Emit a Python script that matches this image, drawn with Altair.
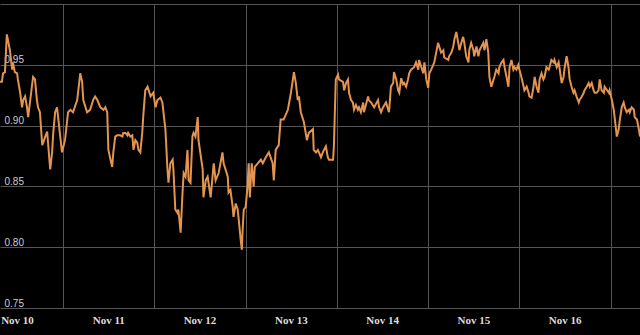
import altair as alt
import pandas as pd
from datetime import datetime, timedelta, timezone

# hours since 2023-11-10 00:00 UTC
hours = [7.4, 7.9, 8.2, 8.7, 9.2, 10.0, 10.6, 10.8, 11.3, 11.9, 12.1, 12.7, 13.2, 13.5, 14.0, 14.5, 14.8,
         16.1, 16.6, 17.1, 17.4, 17.9, 18.5, 19.3, 19.8, 20.6, 21.1, 21.4, 21.9, 22.4, 23.0, 23.7,
         24.5, 25.3, 25.9, 26.6, 27.7, 28.5, 29.0, 29.3, 30.3, 31.1, 31.9, 32.4, 33.0, 33.8, 34.6,
         35.1, 35.6, 35.9, 36.9, 37.2, 37.7, 38.2, 39.0, 39.6, 39.8, 40.4, 40.9, 41.1, 41.7, 42.2,
         42.5, 43.0, 43.5, 43.8, 44.3, 44.8, 45.1, 45.6, 46.2, 47.0, 47.7, 48.3, 48.8, 49.6, 50.1,
         50.6, 50.9, 51.4, 51.7, 52.2, 52.8, 53.0, 53.5, 54.1, 54.3, 54.9, 55.4, 55.7, 56.2, 56.7,
         57.0, 57.5, 58.0, 58.3, 58.8, 59.4, 59.6, 60.7, 60.9, 61.5, 62.0, 62.8, 63.6, 64.1, 64.9,
         65.9, 66.2, 67.3, 67.5, 68.0, 68.6, 68.8, 69.4, 69.9, 70.2, 70.7, 71.0, 71.2, 71.5, 72.0,
         72.5, 72.8, 73.1, 73.6, 74.1, 74.4, 75.2, 76.0, 76.5, 77.3, 78.1, 79.1, 79.4, 79.9, 80.7,
         81.2, 82.0, 83.1, 83.9, 84.7, 85.2, 85.7, 86.0, 86.5, 87.3, 88.1, 88.6, 89.7, 89.9, 90.5,
         91.0, 91.8, 92.3, 92.6, 93.1, 93.6, 93.9, 95.0, 95.2, 95.7, 96.3, 96.5, 97.6, 97.9, 98.4,
         98.9, 99.2, 99.7, 100.2, 100.5, 101.0, 101.5, 101.8, 102.3, 102.9, 103.1, 104.2, 104.4,
         105.0, 105.8, 106.8, 107.1, 107.6, 108.1, 108.9, 109.5, 109.7, 110.2, 110.8, 111.0, 111.6,
         112.1, 112.4, 112.9, 113.4, 113.7, 114.2, 114.7, 115.0, 115.5, 116.3, 116.8, 117.4, 117.6,
         118.2, 118.7, 119.0, 119.5, 120.0, 120.3, 120.8, 121.6, 122.1, 122.6, 122.9, 123.4, 124.0,
         124.2, 125.3, 125.5, 126.1, 126.6, 126.9, 127.4, 127.9, 128.2, 128.7, 129.2, 129.5, 130.0,
         130.6, 130.8, 131.3, 131.9, 132.1, 132.7, 133.2, 133.5, 134.0, 134.5, 134.8, 135.3, 135.8,
         136.1, 136.6, 137.2, 137.4, 137.9, 138.5, 138.7, 139.3, 139.8, 140.1, 140.6, 141.1, 141.4,
         141.9, 142.4, 142.7, 143.2, 143.7, 144.0, 144.5, 145.1, 145.3, 145.9, 146.4, 146.6, 147.2,
         147.7, 148.0, 148.5, 149.0, 149.3, 149.8, 150.3, 150.6, 151.1, 151.7, 151.9, 152.4, 153.0,
         153.2, 153.8, 154.3, 154.6, 155.1, 155.6, 155.9, 156.4, 156.9, 157.2, 157.7, 158.2, 158.5,
         159.0, 159.6, 159.8, 160.4, 160.9, 161.1, 161.7, 162.2, 162.5, 163.0, 163.5, 163.8, 164.3,
         164.8, 165.1, 165.6, 166.2, 166.4, 167.5, 167.7, 168.3, 168.8, 169.1, 169.6, 170.1, 170.4,
         170.9, 171.4, 171.7, 172.2, 172.8, 173.0, 173.5, 174.1, 174.3, 174.9, 175.4, 175.7]

values = [0.936, 0.936, 0.943, 0.944, 0.975, 0.962, 0.946, 0.952, 0.944, 0.943, 0.938, 0.927, 0.915, 0.921, 0.924, 0.915, 0.907,
          0.940, 0.938, 0.921, 0.915, 0.911, 0.884, 0.891, 0.895, 0.864, 0.878, 0.894, 0.911, 0.915, 0.898, 0.878,
          0.888, 0.911, 0.913, 0.911, 0.921, 0.943, 0.936, 0.921, 0.911, 0.913, 0.921, 0.924, 0.921, 0.915, 0.913,
          0.915, 0.911, 0.880, 0.866, 0.878, 0.891, 0.892, 0.892, 0.891, 0.894, 0.894, 0.892, 0.894, 0.891, 0.892,
          0.880, 0.888, 0.886, 0.880, 0.878, 0.894, 0.909, 0.929, 0.932, 0.924, 0.927, 0.915, 0.921, 0.923, 0.919,
          0.905, 0.897, 0.866, 0.853, 0.869, 0.872, 0.864, 0.831, 0.828, 0.831, 0.812, 0.845, 0.861, 0.858, 0.880,
          0.855, 0.853, 0.891, 0.894, 0.891, 0.907, 0.888, 0.864, 0.841, 0.855, 0.858, 0.841, 0.869, 0.855, 0.861,
          0.878, 0.869, 0.858, 0.845, 0.847, 0.833, 0.825, 0.836, 0.831, 0.822, 0.806, 0.798, 0.814, 0.831, 0.833,
          0.850, 0.869, 0.841, 0.869, 0.850, 0.866, 0.869, 0.872, 0.869, 0.874, 0.878, 0.869, 0.855, 0.880, 0.884,
          0.905, 0.905, 0.913, 0.927, 0.944, 0.935, 0.921, 0.924, 0.911, 0.903, 0.888, 0.894, 0.897, 0.880, 0.878,
          0.880, 0.874, 0.878, 0.880, 0.883, 0.874, 0.872, 0.872, 0.883, 0.938, 0.942, 0.938, 0.936, 0.929, 0.935,
          0.938, 0.927, 0.921, 0.919, 0.913, 0.917, 0.913, 0.915, 0.911, 0.919, 0.911, 0.924, 0.921,
          0.919, 0.915, 0.921, 0.915, 0.911, 0.915, 0.919, 0.913, 0.911, 0.932, 0.935, 0.944, 0.938,
          0.929, 0.927, 0.939, 0.934, 0.935, 0.932, 0.938, 0.943, 0.946, 0.948, 0.952, 0.946, 0.954,
          0.948, 0.943, 0.952, 0.938, 0.931, 0.943, 0.946, 0.952, 0.960, 0.968, 0.965, 0.960, 0.962,
          0.956, 0.954, 0.957, 0.960, 0.965, 0.971, 0.977, 0.968, 0.962, 0.968, 0.973, 0.968, 0.957,
          0.952, 0.962, 0.968, 0.962, 0.957, 0.965, 0.957, 0.962, 0.965, 0.968, 0.962, 0.971, 0.960,
          0.940, 0.932, 0.938, 0.940, 0.946, 0.943, 0.948, 0.952, 0.954, 0.948, 0.940, 0.932, 0.948,
          0.954, 0.946, 0.948, 0.946, 0.950, 0.946, 0.940, 0.932, 0.929, 0.932, 0.927, 0.924, 0.923,
          0.932, 0.940, 0.932, 0.927, 0.938, 0.943, 0.938, 0.940, 0.948, 0.946, 0.948, 0.954, 0.952,
          0.954, 0.948, 0.952, 0.946, 0.935, 0.940, 0.948, 0.957, 0.948, 0.938, 0.932, 0.927, 0.929,
          0.924, 0.919, 0.921, 0.924, 0.927, 0.929, 0.932, 0.935, 0.932, 0.935, 0.929, 0.927, 0.927,
          0.929, 0.938, 0.929, 0.927, 0.932, 0.927, 0.929, 0.921, 0.913, 0.905, 0.891, 0.897, 0.905,
          0.915, 0.919, 0.915, 0.911, 0.913, 0.911, 0.915, 0.913, 0.907, 0.905, 0.897, 0.891]

day_labels = ["Nov 10", "Nov 11", "Nov 12", "Nov 13", "Nov 14", "Nov 15", "Nov 16", "Nov 17"]
y_ticks = [0.75, 0.80, 0.85, 0.90, 0.95, 1.00]

base = datetime(2023, 11, 10, tzinfo=timezone.utc)


def iso(h):
    return (base + timedelta(hours=h)).strftime("%Y-%m-%dT%H:%M:%SZ")


def ms(h):
    return int((base + timedelta(hours=h)).timestamp() * 1000)


line_df = pd.DataFrame({"t": [iso(h) for h in hours], "v": values})
lab_df = pd.DataFrame({"t": [iso(24 * i + 12) for i in range(len(day_labels))], "label": day_labels})

xscale = alt.Scale(type="utc", domain=[ms(hours[0]), ms(hours[-1])], nice=False)
grid_days = [alt.DateTime(year=2023, month=11, date=d, utc=True) for d in range(11, 18)]

line = alt.Chart(line_df).mark_line(color="#E39450", strokeWidth=2).encode(
    x=alt.X("t:T", scale=xscale, title=None,
            axis=alt.Axis(values=grid_days, labels=False, ticks=False, domain=False,
                          grid=True, gridColor="#555555", gridWidth=1)),
    y=alt.Y("v:Q", scale=alt.Scale(domain=[0.75, 1.0], nice=False, zero=False), title=None,
            axis=alt.Axis(values=y_ticks, ticks=False, tickSize=0, domain=False, grid=True,
                          gridColor="#555555", gridWidth=1,
                          labelAlign="left", labelPadding=-4, labelBaseline="alphabetic",
                          labelOffset=-2, labelColor="#cccccc", labelFont="Liberation Sans",
                          labelFontSize=10, labelOverlap=False,
                          labelExpr="datum.value >= 1 ? '' : format(datum.value, '.2f')")),
)

labels = alt.Chart(lab_df).mark_text(
    font="Liberation Serif", fontWeight="bold", fontSize=11, color="#dddddd",
    align="center", baseline="alphabetic"
).encode(
    x=alt.X("t:T", scale=xscale),
    y=alt.value(320),
    text="label:N",
)

chart = alt.layer(line, labels).properties(
    width=640, height=304,
    padding={"left": 0, "top": 4, "right": 0, "bottom": 27},
    autosize=alt.AutoSizeParams(type="none"),
    background="#000000",
).configure_view(stroke=None)

chart.save("out.html", embed_options={"renderer": "svg", "actions": False})
